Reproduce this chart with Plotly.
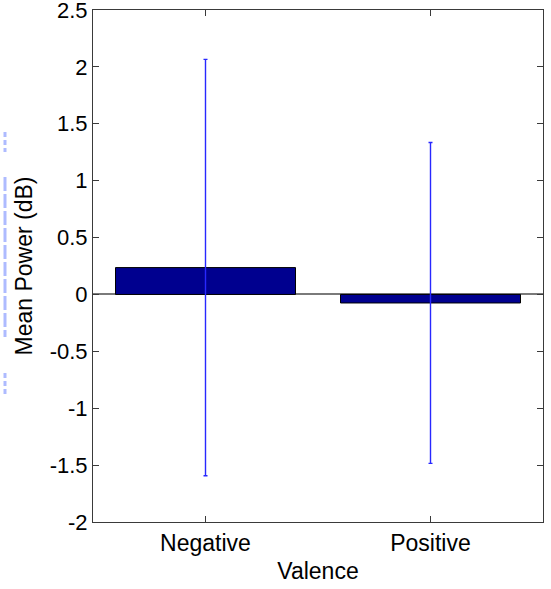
import plotly.graph_objects as go

# Mean power per valence condition, with symmetric error bars
categories = ["Negative", "Positive"]
mean_power = [0.236, -0.075]
error = [1.83, 1.41]

y_ticks = [-2, -1.5, -1, -0.5, 0, 0.5, 1, 1.5, 2, 2.5]
y_tick_text = ["-2", "-1.5", "-1", "-0.5", "0", "0.5", "1", "1.5", "2", "2.5"]

FONT = "Liberation Sans, Arial, sans-serif"
AXIS_COLOR = "#3a3a3a"

fig = go.Figure()
fig.add_trace(go.Bar(
    x=[1, 2],
    y=mean_power,
    width=0.8,
    marker=dict(color="rgb(0,0,143)", line=dict(color="black", width=1)),
    error_y=dict(type="data", array=error, symmetric=True,
                 color="rgb(40,40,255)", thickness=1.4, width=2),
    showlegend=False,
))

# faint dashed stroke along the left edge
for y0, y1, dash in [(132, 152, "5px,3px"), (177, 337, "14px,3px"), (373, 397, "5px,3px")]:
    fig.add_shape(type="line", xref="paper", yref="paper",
                  x0=-88 / 450, x1=-88 / 450,
                  y0=(522 - y0) / 512, y1=(522 - y1) / 512,
                  line=dict(color="rgba(165,180,255,0.9)", width=3, dash=dash))

fig.update_layout(
    width=551, height=589,
    margin=dict(l=93, r=8, t=10, b=67),
    paper_bgcolor="white", plot_bgcolor="white",
    font=dict(family=FONT, size=23, color="black"),
    bargap=0.2,
    xaxis=dict(
        range=[0.5, 2.5],
        automargin=False,
        tickvals=[1, 2], ticktext=categories,
        ticks="inside", ticklen=6, tickcolor=AXIS_COLOR,
        showline=True, linecolor=AXIS_COLOR, linewidth=1, mirror="ticks",
        showgrid=False, zeroline=False,
        title=dict(text="Valence", standoff=8, font=dict(size=23)),
        tickfont=dict(size=23),
    ),
    yaxis=dict(
        range=[-2.0001, 2.5001],
        automargin=False,
        tickvals=y_ticks, ticktext=y_tick_text,
        ticklabeloverflow="allow",
        ticks="inside", ticklen=6, tickcolor=AXIS_COLOR,
        showline=True, linecolor=AXIS_COLOR, linewidth=1, mirror="ticks",
        showgrid=False,
        zeroline=True, zerolinecolor="#7a7a7a", zerolinewidth=1.5,
        title=dict(text="Mean Power (dB)", standoff=10, font=dict(size=23)),
        tickfont=dict(size=22),
    ),
)

fig.write_html("out.html")
